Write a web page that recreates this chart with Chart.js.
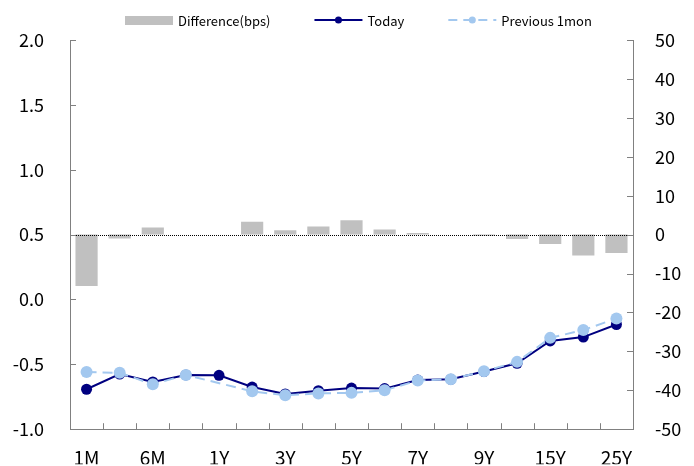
<!DOCTYPE html>
<html>
<head>
<meta charset="utf-8">
<title>Yield curve: Today vs Previous 1mon</title>
<script src="https://cdn.jsdelivr.net/npm/chart.js@4/dist/chart.umd.min.js"></script>
<style>
  html, body { margin: 0; padding: 0; background: #ffffff; }
  #wrap { position: relative; width: 694px; height: 466px; }
</style>
</head>
<body>
<div id="wrap"><canvas id="chart" width="694" height="466"></canvas></div>
<script>
// Tenors along the curve
const tenors = ['1M', '3M', '6M', '9M', '1Y', '2Y', '3Y', '4Y', '5Y', '6Y', '7Y', '8Y', '9Y', '10Y', '15Y', '20Y', '25Y'];

// Yields (%)
const today = [-0.692, -0.575, -0.636, -0.582, -0.585, -0.675, -0.728, -0.703, -0.683, -0.687, -0.621, -0.615, -0.556, -0.492, -0.320, -0.290, -0.193];
const previous1mon = [-0.560, -0.565, -0.654, -0.582, null, -0.708, -0.739, -0.724, -0.720, -0.700, -0.625, -0.615, -0.553, -0.481, -0.296, -0.236, -0.146];

// Change over the month (bps)
const differenceBps = [-13.2, -1.0, 1.8, 0, null, 3.3, 1.1, 2.1, 3.7, 1.3, 0.4, 0, -0.3, -1.1, -2.4, -5.4, -4.7];

const seriesNames = ['Difference(bps)', 'Today', 'Previous 1mon'];

// Axis ranges
const yieldAxis = { min: -1.0, max: 2.0, step: 0.5 };
const bpsAxis = { min: -50, max: 50, step: 10 };

const FONT = '"Noto Sans CJK KR", "Noto Sans", sans-serif';
const AXIS_GREY = '#808080';
const NAVY = '#000080';
const LIGHT_BLUE = '#a3c8ef';
const BAR_GREY = '#c0c0c0';

Chart.defaults.font.family = FONT;
Chart.defaults.color = '#000000';

// Inward tick marks, dotted zero line for the bps axis, and the legend row
const decorations = {
  id: 'decorations',
  afterDatasetsDraw(chart) {
    const { ctx, chartArea } = chart;
    const y1 = chart.scales.y1;
    ctx.save();
    // dotted zero line of the difference axis
    const zy = Math.round(y1.getPixelForValue(0)) + 0.5;
    ctx.strokeStyle = '#000000';
    ctx.lineWidth = 1;
    ctx.setLineDash([1, 1]);
    ctx.beginPath();
    ctx.moveTo(chartArea.left, zy);
    ctx.lineTo(chartArea.right, zy);
    ctx.stroke();
    ctx.restore();
  },
  afterDraw(chart) {
    const { ctx, chartArea } = chart;
    const y = chart.scales.y, y1 = chart.scales.y1, x = chart.scales.x;
    const len = 6;
    ctx.save();
    ctx.strokeStyle = AXIS_GREY;
    ctx.lineWidth = 1;
    ctx.beginPath();
    y.ticks.forEach(t => {
      const py = Math.round(y.getPixelForValue(t.value)) + 0.5;
      ctx.moveTo(chartArea.left, py);
      ctx.lineTo(chartArea.left + len, py);
    });
    y1.ticks.forEach(t => {
      const py = Math.round(y1.getPixelForValue(t.value)) + 0.5;
      ctx.moveTo(chartArea.right, py);
      ctx.lineTo(chartArea.right - len, py);
    });
    const n = x.getLabels().length;
    const w = (chartArea.right - chartArea.left) / n;
    for (let i = 1; i < n; i++) {
      const px = Math.round(chartArea.left + i * w) + 0.5;
      ctx.moveTo(px, chartArea.bottom);
      ctx.lineTo(px, chartArea.bottom - len);
    }
    ctx.stroke();

    // legend
    ctx.font = '13px ' + FONT;
    ctx.textBaseline = 'middle';
    ctx.textAlign = 'left';
    const sym = 48, gapText = 5, gapItem = 44, cy = 20;
    const widths = seriesNames.map(s => ctx.measureText(s).width);
    const total = widths.reduce((a, b) => a + b, 0) + 3 * (sym + gapText) + 2 * gapItem;
    let lx = Math.round(358 - total / 2);
    seriesNames.forEach((name, i) => {
      if (i === 0) {
        ctx.fillStyle = BAR_GREY;
        ctx.fillRect(lx, cy - 4, sym, 9);
      } else {
        const col = i === 1 ? NAVY : LIGHT_BLUE;
        ctx.strokeStyle = col;
        ctx.lineWidth = 2;
        ctx.setLineDash(i === 2 ? [9, 6] : []);
        ctx.beginPath();
        ctx.moveTo(lx, cy);
        ctx.lineTo(lx + sym, cy);
        ctx.stroke();
        ctx.setLineDash([]);
        ctx.fillStyle = col;
        ctx.beginPath();
        ctx.arc(lx + sym / 2, cy, 3.5, 0, Math.PI * 2);
        ctx.fill();
      }
      ctx.fillStyle = '#000000';
      ctx.fillText(name, lx + sym + gapText, cy + 1);
      lx += sym + gapText + widths[i] + gapItem;
    });
    ctx.restore();
  }
};

new Chart(document.getElementById('chart'), {
  type: 'bar',
  data: {
    labels: tenors,
    datasets: [
      {
        type: 'bar',
        label: seriesNames[0],
        data: differenceBps,
        yAxisID: 'y1',
        backgroundColor: BAR_GREY,
        borderWidth: 0,
        barPercentage: 0.67,
        categoryPercentage: 1.0,
        order: 3
      },
      {
        type: 'line',
        label: seriesNames[1],
        data: today,
        yAxisID: 'y',
        borderColor: NAVY,
        backgroundColor: NAVY,
        borderWidth: 2,
        pointRadius: 5.5,
        pointBorderWidth: 0,
        pointBackgroundColor: NAVY,
        tension: 0,
        order: 2
      },
      {
        type: 'line',
        label: seriesNames[2],
        data: previous1mon,
        yAxisID: 'y',
        borderColor: LIGHT_BLUE,
        backgroundColor: LIGHT_BLUE,
        borderWidth: 2,
        borderDash: [10, 6],
        pointRadius: 6,
        pointBorderWidth: 0,
        pointBackgroundColor: LIGHT_BLUE,
        spanGaps: true,
        tension: 0,
        order: 1
      }
    ]
  },
  options: {
    responsive: false,
    animation: false,
    devicePixelRatio: 1,
    layout: { padding: { top: 40, left: 0, right: 0, bottom: 0 } },
    plugins: {
      legend: { display: false },
      tooltip: { enabled: false }
    },
    scales: {
      x: {
        type: 'category',
        offset: true,
        grid: { display: false, drawTicks: false },
        border: { display: true, color: AXIS_GREY, width: 1 },
        ticks: {
          autoSkip: false,
          maxRotation: 0,
          padding: 17,
          font: { size: 19 },
          color: '#000000',
          callback: (v, i) => (i % 2 === 0 ? tenors[i] : '')
        },
        afterFit: s => { s.height = 35; }
      },
      y: {
        position: 'left',
        min: yieldAxis.min,
        max: yieldAxis.max,
        grid: { display: false, drawTicks: false },
        border: { display: true, color: AXIS_GREY, width: 1 },
        ticks: {
          stepSize: yieldAxis.step,
          padding: 26,
          font: { size: 18 },
          color: '#000000',
          callback: v => Number(v).toFixed(1)
        },
        afterFit: s => { s.width = 70; }
      },
      y1: {
        position: 'right',
        min: bpsAxis.min,
        max: bpsAxis.max,
        grid: { display: false, drawTicks: false },
        border: { display: true, color: AXIS_GREY, width: 1 },
        ticks: {
          stepSize: bpsAxis.step,
          padding: 22,
          font: { size: 18 },
          color: '#000000'
        },
        afterFit: s => { s.width = 61; }
      }
    }
  },
  plugins: [decorations]
});
</script>
</body>
</html>
